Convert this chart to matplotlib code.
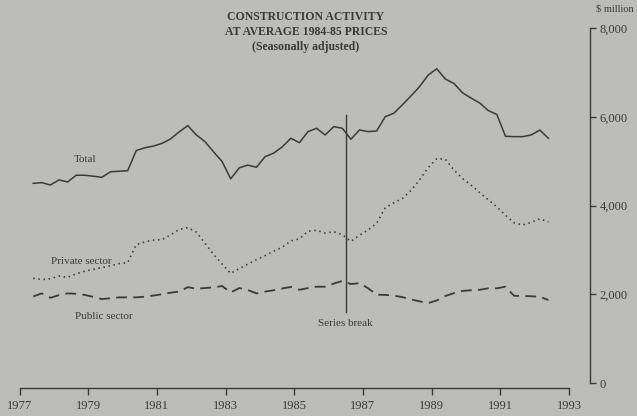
import matplotlib
matplotlib.use("Agg")
import matplotlib.pyplot as plt
import numpy as np

# ---- data (quarterly, $ million at average 1984-85 prices) ----
start_year = 1977.4          # first quarterly observation
quarter_step = 0.25

total = [4500, 4515, 4463, 4576, 4530, 4682, 4682, 4660, 4636, 4760,
         4772, 4786, 5240, 5300, 5340, 5400, 5500, 5660, 5800, 5590,
         5440, 5210, 4990, 4600, 4850, 4910, 4862, 5100, 5180, 5320,
         5515, 5416, 5665, 5740, 5590, 5777, 5740, 5492, 5703, 5665,
         5680, 6002, 6079, 6270, 6470, 6680, 6940, 7080, 6850, 6750,
         6540, 6420, 6310, 6140, 6050, 5560, 5552, 5552, 5590, 5700,
         5515]

private = [2360, 2330, 2350, 2410, 2380, 2460, 2520, 2560, 2600, 2640,
           2690, 2710, 3120, 3180, 3220, 3230, 3340, 3460, 3500, 3400,
           3150, 2900, 2680, 2470, 2580, 2680, 2780, 2870, 2970, 3060,
           3200, 3250, 3420, 3440, 3380, 3410, 3340, 3190, 3330, 3450,
           3600, 3950, 4060, 4160, 4340, 4580, 4850, 5060, 5040, 4800,
           4610, 4460, 4290, 4130, 3970, 3780, 3610, 3560, 3620, 3700,
           3630]

public = [1950, 2020, 1920, 1980, 2020, 2010, 1985, 1940, 1890, 1910,
          1930, 1930, 1930, 1945, 1970, 2000, 2035, 2060, 2160, 2125,
          2140, 2155, 2185, 2040, 2140, 2095, 2020, 2060, 2090, 2130,
          2165, 2100, 2140, 2170, 2170, 2240, 2300, 2230, 2250, 2135,
          1990, 1985, 1970, 1935, 1885, 1840, 1800, 1860, 1960, 2025,
          2075, 2090, 2100, 2134, 2134, 2170, 1965, 1960, 1955, 1945,
          1870]

x_ticks = [1977, 1979, 1981, 1983, 1985, 1987, 1989, 1991, 1993]
y_ticks = [0, 2000, 4000, 6000, 8000]
y_tick_labels = ["0", "2,000", "4,000", "6,000", "8,000"]
series_break_year = 1986.5
series_break_span = [1600, 6040]

title_lines = ["CONSTRUCTION ACTIVITY", "AT AVERAGE 1984-85 PRICES",
               "(Seasonally adjusted)"]

# ---- styling ----
BG = "#bcbcba"
INK = "#3a3a3a"
SERIF = ["Liberation Serif", "DejaVu Serif"]
plt.rcParams["font.family"] = SERIF

W, H = 637, 416
fig = plt.figure(figsize=(W / 100, H / 100), dpi=100, facecolor=BG)
ax = fig.add_axes([19.5 / W, (H - 383) / H, (569 - 19.5) / W, (383 - 28) / H])
ax.set_facecolor(BG)

t = start_year + quarter_step * np.arange(len(total))

ax.plot(t, total, color=INK, lw=1.1, solid_joinstyle="miter")
ax.plot(t, private, color=INK, lw=1.2, linestyle=(0, (0.9, 2.2)))
ax.plot(t, public, color=INK, lw=1.3, linestyle=(0, (6, 3.5)))

ax.plot([series_break_year, series_break_year], series_break_span,
        color=INK, lw=1.0)

ax.set_xlim(x_ticks[0], x_ticks[-1])
ax.set_ylim(y_ticks[0], y_ticks[-1])

for s in ["top", "left"]:
    ax.spines[s].set_visible(False)
ax.spines["bottom"].set_position(("outward", 3.5))
ax.spines["right"].set_position(("outward", 15))
for s in ["bottom", "right"]:
    ax.spines[s].set_color(INK)
    ax.spines[s].set_linewidth(1.0)

ax.set_xticks(x_ticks)
ax.set_xticklabels([str(v) for v in x_ticks])
ax.set_yticks(y_ticks)
ax.set_yticklabels(y_tick_labels)
ax.yaxis.tick_right()
ax.tick_params(axis="x", direction="out", length=5, width=1.0, colors=INK,
               labelsize=9, pad=4)
ax.tick_params(axis="y", direction="out", length=4, width=1.0, colors=INK,
               labelsize=9, pad=3)

# series labels
ax.text(1978.9, 5030, "Total", ha="center", va="center", fontsize=8, color=INK)
ax.text(1978.8, 2730, "Private sector", ha="center", va="center",
        fontsize=8, color=INK)
ax.text(1979.45, 1500, "Public sector", ha="center", va="center",
        fontsize=8, color=INK)
ax.text(series_break_year, 1340, "Series break", ha="center", va="center",
        fontsize=8, color=INK)

# title
for i, line in enumerate(title_lines):
    fig.text(306 / W, 1 - (17 + 15 * i) / H, line, ha="center", va="center",
             fontsize=8.5, fontweight="bold", color=INK)

fig.text(634 / W, 1 - 9 / H, "$ million", ha="right", va="center",
         fontsize=7.5, color=INK)

fig.savefig("out.png", dpi=100, facecolor=BG)
